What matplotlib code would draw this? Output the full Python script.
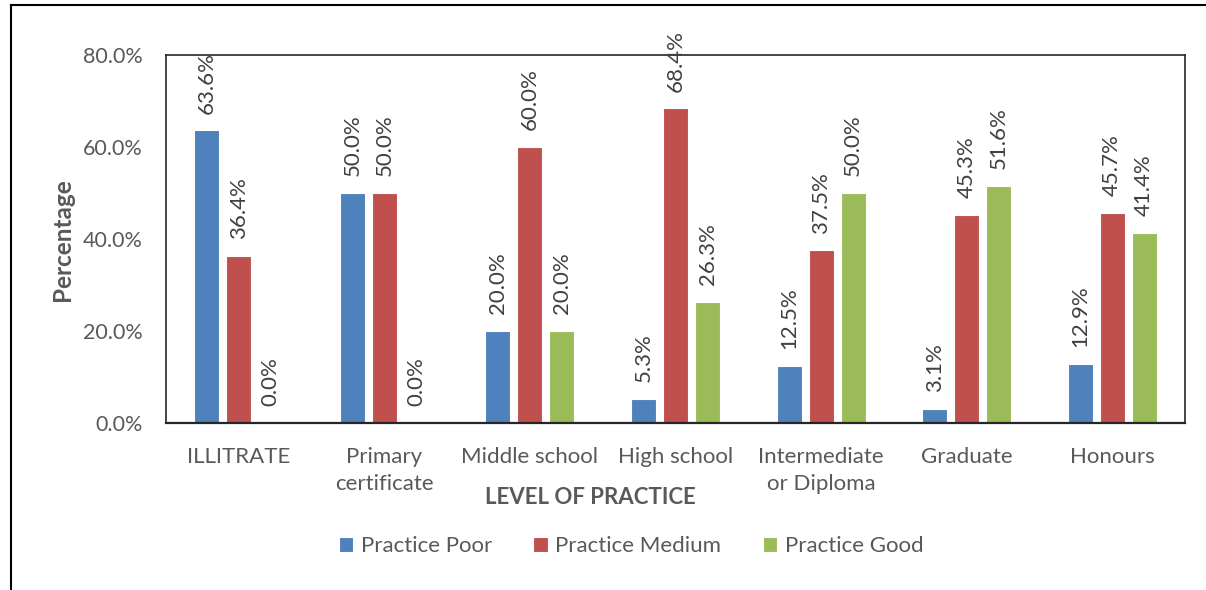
import matplotlib.pyplot as plt
import numpy as np

categories = ["ILLITRATE", "Primary\ncertificate", "Middle school", "High school",
              "Intermediate\nor Diploma", "Graduate", "Honours"]
poor = [63.6, 50.0, 20.0, 5.3, 12.5, 3.1, 12.9]
medium = [36.4, 50.0, 60.0, 68.4, 37.5, 45.3, 45.7]
good = [0.0, 0.0, 20.0, 26.3, 50.0, 51.6, 41.4]

series = [("Practice Poor", poor, "#4f81bd"),
          ("Practice Medium", medium, "#c0504d"),
          ("Practice Good", good, "#9bbb59")]

plt.rcParams['font.family'] = ['Lato', 'DejaVu Sans']
grey = "#595959"


def main():
    fig = plt.figure(figsize=(12.06, 5.9), dpi=100, facecolor='w')
    ax = fig.add_axes([166 / 1206, 1 - 423 / 590, (1185 - 166) / 1206, (423 - 55) / 590])

    x = np.arange(len(categories))
    w = 0.172
    step = 0.22
    for i, (name, vals, color) in enumerate(series):
        pos = x + (i - 1) * step
        ax.bar(pos, vals, width=w, color=color, edgecolor='white', linewidth=0.8, label=name)
        for p, v in zip(pos, vals):
            ax.annotate("{:.1f}%".format(v), (p, v), xytext=(0, 12), textcoords="offset points",
                        rotation=90, ha='center', va='bottom', fontsize=16, color="#404040")

    ax.set_xlim(-0.5, len(categories) - 0.5)
    ax.set_ylim(0, 80)
    ax.set_yticks([0, 20, 40, 60, 80])
    ax.set_yticklabels(["{:.1f}%".format(t) for t in [0, 20, 40, 60, 80]])
    ax.set_xticks(x)
    ax.set_xticklabels(categories, linespacing=1.45)
    ax.tick_params(length=0, labelcolor=grey)
    ax.tick_params(axis='y', pad=17, labelsize=15.5)
    ax.tick_params(axis='x', pad=17, labelsize=16)
    for s in ax.spines.values():
        s.set_color("#262626")
        s.set_linewidth(1.2)
    ax.spines['bottom'].set_linewidth(1.6)

    fig.text(62 / 1206, 1 - 240 / 590, "Percentage", rotation=90, ha='center', va='center',
             fontsize=17.5, fontweight='bold', color=grey)
    fig.text(590 / 1206, 1 - 498 / 590, "LEVEL OF PRACTICE", ha='center', va='center',
             fontsize=16, fontweight='bold', color=grey)

    fig.legend(loc='center', bbox_to_anchor=(631 / 1206, 1 - 546 / 590), ncol=3, frameon=False,
               fontsize=16, labelcolor=grey, handlelength=0.65, handleheight=0.65,
               handletextpad=0.35, columnspacing=1.85)

    # outer frame, left and top edges only
    fig.add_artist(plt.Line2D([11 / 1206, 11 / 1206], [0, 1 - 5 / 590], color='black', lw=1.5))
    fig.add_artist(plt.Line2D([11 / 1206, 1], [1 - 5 / 590, 1 - 5 / 590], color='black', lw=1.5))

    fig.savefig("out.png", dpi=100, facecolor='w')


if __name__ == "__main__":
    main()
